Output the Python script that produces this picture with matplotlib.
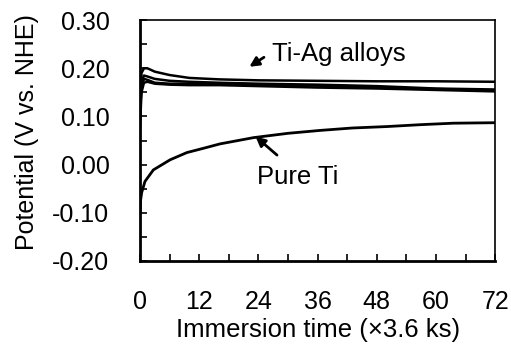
import matplotlib
matplotlib.use("Agg")
import matplotlib.pyplot as plt
from matplotlib.ticker import MultipleLocator, FormatStrFormatter

plt.rcParams['font.family'] = ['Liberation Sans', 'DejaVu Sans']

# pure Ti curve
ti_t = [0, 0.1, 0.34, 1.0, 2.7, 6.1, 9.5, 12.9, 16.2, 23, 30, 36.5, 43, 50, 57, 63.5, 72]
ti_v = [-0.100, -0.075, -0.058, -0.035, -0.011, 0.010, 0.025, 0.034, 0.043, 0.056,
        0.065, 0.071, 0.076, 0.079, 0.083, 0.086, 0.087]

# Ti-Ag alloy curves
ag_t = [0, 0.3, 0.8, 1.5, 3, 6, 10, 16, 24, 36, 48, 60, 72]
ag_a = [0.12, 0.19, 0.200, 0.200, 0.193, 0.186, 0.180, 0.177, 0.175, 0.174, 0.173, 0.173, 0.172]
ag_b = [0.10, 0.17, 0.185, 0.183, 0.178, 0.174, 0.172, 0.170, 0.168, 0.166, 0.163, 0.158, 0.156]
ag_c = [0.08, 0.15, 0.170, 0.172, 0.168, 0.166, 0.165, 0.165, 0.163, 0.160, 0.158, 0.155, 0.152]
ag_d = [0.11, 0.16, 0.178, 0.176, 0.170, 0.168, 0.168, 0.167, 0.166, 0.164, 0.160, 0.157, 0.154]

fig = plt.figure(figsize=(5.11, 3.47), dpi=100)
ax = fig.add_axes([0.274, 0.248, 0.695, 0.694])

ax.plot(ti_t, ti_v, color='black', lw=2)
for s in (ag_a, ag_b, ag_c, ag_d):
    ax.plot(ag_t, s, color='black', lw=1.8)

ax.set_xlim(0, 72)
ax.set_ylim(-0.20, 0.30)
ax.xaxis.set_major_locator(MultipleLocator(12))
ax.xaxis.set_minor_locator(MultipleLocator(6))
ax.yaxis.set_major_locator(MultipleLocator(0.1))
ax.yaxis.set_minor_locator(MultipleLocator(0.05))
ax.yaxis.set_major_formatter(FormatStrFormatter('%.2f'))
ax.tick_params(which='both', direction='in', length=5, width=1.2, labelsize=18,
               top=False, right=False)
ax.tick_params(axis='x', pad=21)
ax.tick_params(axis='y', pad=22)
for side in ('left', 'bottom'):
    ax.spines[side].set_linewidth(2)
for side in ('top', 'right'):
    ax.spines[side].set_linewidth(1.2)

ax.set_xlabel('Immersion time (\u00d73.6 ks)', fontsize=18.5)
ax.set_ylabel('Potential (V vs. NHE)', fontsize=18)
ax.xaxis.set_label_coords(0.5, -0.235)
ax.yaxis.set_label_coords(-0.285, 0.535)

ax.annotate('', xy=(21.7, 0.200), xytext=(25.6, 0.226),
            arrowprops=dict(arrowstyle='-|>', color='black', lw=2, mutation_scale=14))
ax.text(26.8, 0.229, 'Ti-Ag alloys', fontsize=18.5, ha='left', va='center')
ax.annotate('', xy=(23, 0.062), xytext=(28.2, 0.016),
            arrowprops=dict(arrowstyle='-|>', color='black', lw=2, mutation_scale=14))
ax.text(32, -0.025, 'Pure Ti', fontsize=18.5, ha='center', va='center')

fig.savefig('out.png', dpi=100)
